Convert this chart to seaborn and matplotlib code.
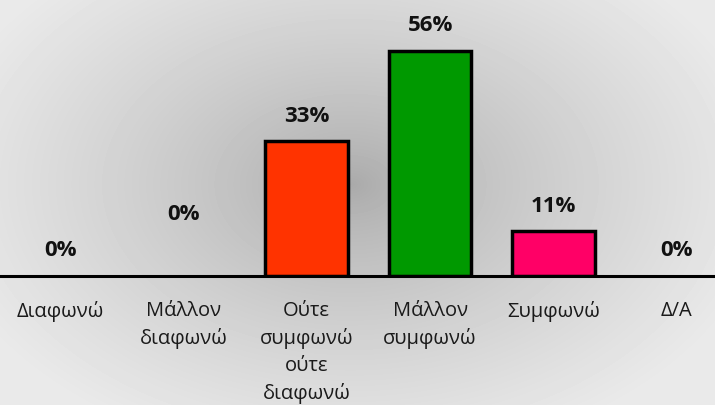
import matplotlib
matplotlib.use("Agg")
import matplotlib.pyplot as plt
import seaborn as sns
import numpy as np
import pandas as pd

# Survey answers (share of respondents, %)
categories = ["Διαφωνώ", "Μάλλον διαφωνώ", "Ούτε συμφωνώ ούτε διαφωνώ",
              "Μάλλον συμφωνώ", "Συμφωνώ", "Δ/Α"]
tick_labels = ["Διαφωνώ", "Μάλλον\nδιαφωνώ", "Ούτε\nσυμφωνώ\nούτε\nδιαφωνώ",
               "Μάλλον\nσυμφωνώ", "Συμφωνώ", "Δ/Α"]
values = [0.0, 0.0, 33.3, 55.6, 11.1, 0.0]
colors = ["#FF3300", "#FF3300", "#FF3300", "#009900", "#FF0066", "#FF0066"]
# label distance above bar top, in pixels
label_offsets = [26, 62, 26, 26, 26, 26]

sns.set_style("white")
plt.rcParams["font.family"] = ["Open Sans", "DejaVu Sans"]

df = pd.DataFrame({"category": categories, "value": values})

fig = plt.figure(figsize=(7.15, 4.06), dpi=100)

# radial grey background
bg = fig.add_axes([0, 0, 1, 1], zorder=-1)
yy, xx = np.mgrid[0:406, 0:715]
r = np.sqrt(((xx - 350) / 420.0) ** 2 + ((yy - 185) / 280.0) ** 2)
shade = 0.66 + (0.915 - 0.66) * np.clip(r, 0, 1) ** 0.75
bg.imshow(shade, cmap="gray", vmin=0, vmax=1, aspect="auto", interpolation="bilinear")
bg.axis("off")

ax = fig.add_axes([-1.6 / 715, 129 / 406, 740 / 715, 277 / 406])
ax.patch.set_alpha(0)

sns.barplot(data=df, x="category", y="value", hue="category", palette=colors,
            legend=False, width=0.67, edgecolor="black", linewidth=2.5,
            saturation=1, ax=ax)
# no outline on empty bars
for bar in ax.patches:
    if bar.get_height() == 0:
        bar.set_linewidth(0)

ax.set_xlim(-0.5, len(categories) - 0.5)
ax.set_ylim(0, 277 / 4.05)
ax.set_yticks([])
ax.set_xlabel("")
ax.set_ylabel("")
for side in ["top", "right", "left"]:
    ax.spines[side].set_visible(False)
ax.spines["bottom"].set_linewidth(2.2)
ax.spines["bottom"].set_color("black")
ax.spines["bottom"].set_zorder(5)

ax.set_xticks(range(len(categories)))
ax.set_xticklabels(tick_labels, fontsize=14.5, linespacing=1.46, color="#1a1a1a")
ax.tick_params(axis="x", which="major", length=0, pad=17)
ax.set_xticks(np.arange(0.5, len(categories) - 0.5, 1), minor=True)
ax.tick_params(axis="x", which="minor", length=6, width=2, color="black", direction="out")

for i, v in enumerate(values):
    ax.annotate(f"{round(v)}%", (i, v), xytext=(0, label_offsets[i]),
                textcoords="offset pixels", ha="center", va="center",
                fontsize=16, fontweight="bold", color="#111111")

plt.savefig("out.png", dpi=100)
plt.close()
